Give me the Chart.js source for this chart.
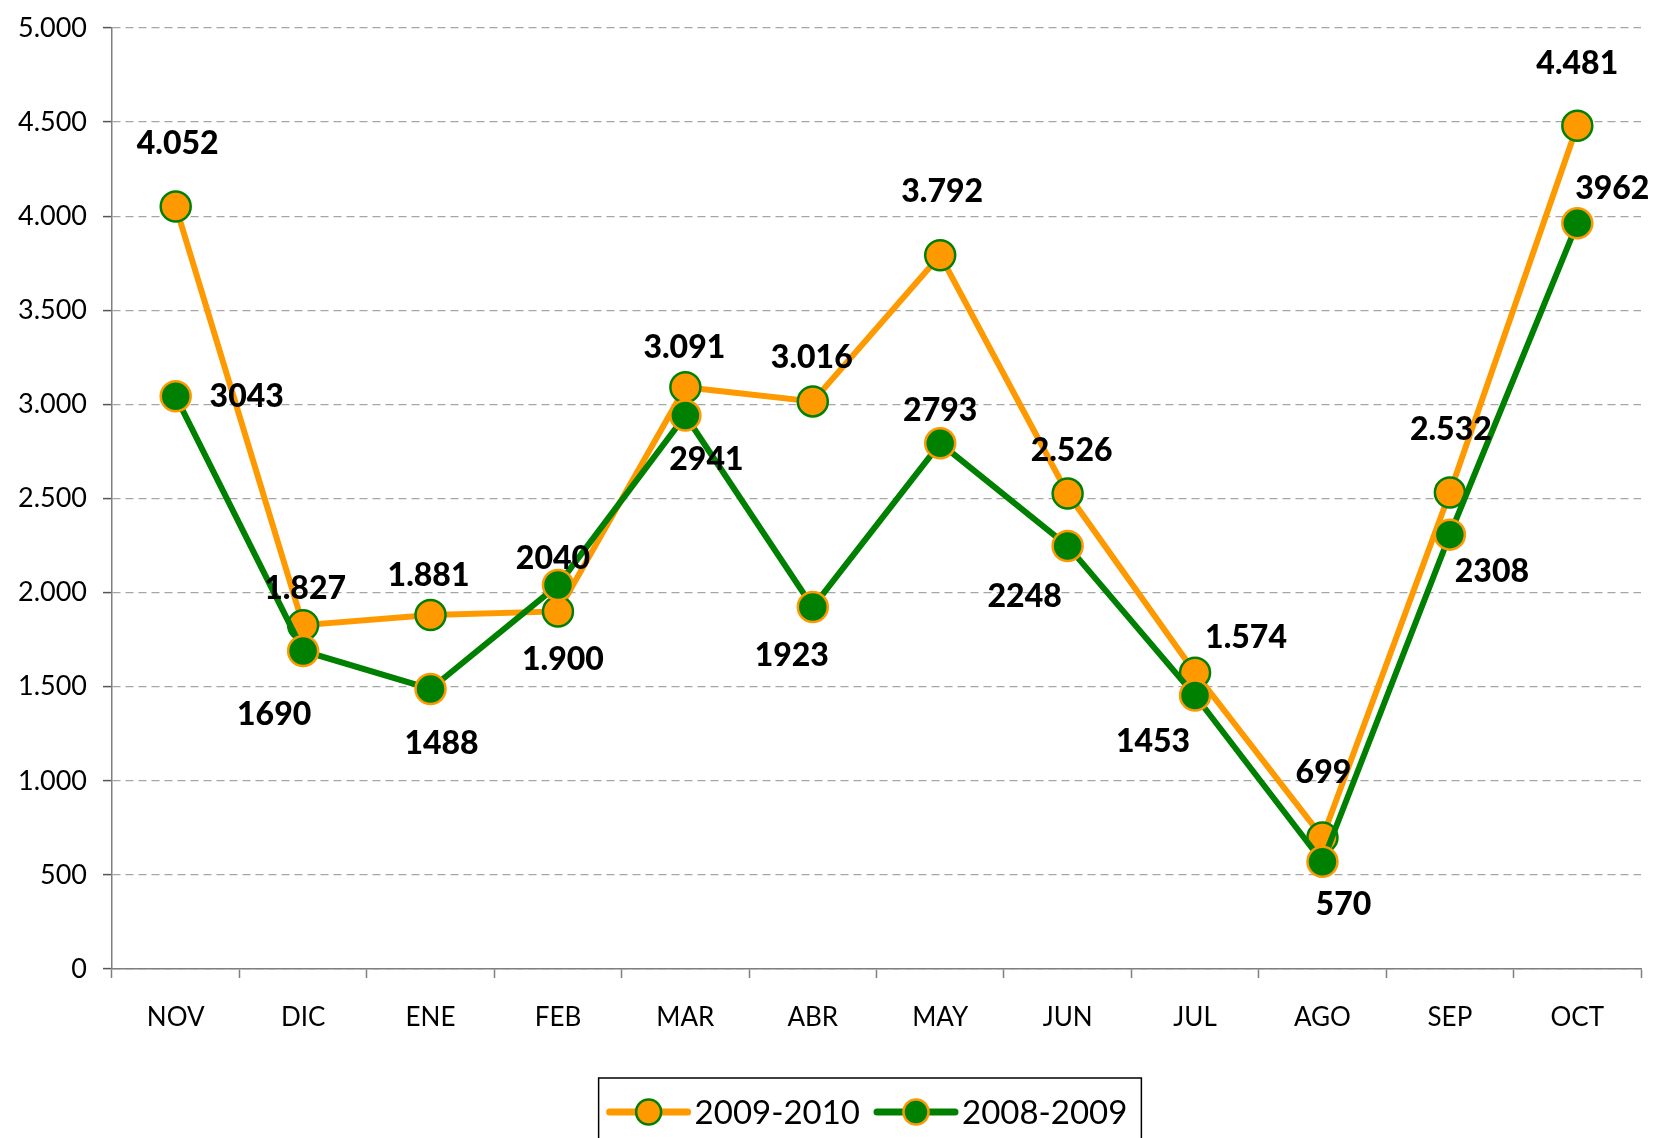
<!DOCTYPE html>
<html>
<head>
<meta charset="utf-8">
<script src="https://cdn.jsdelivr.net/npm/chart.js@4.4.1/dist/chart.umd.min.js"></script>
<style>
  html, body { margin: 0; padding: 0; background: #fff; }
</style>
</head>
<body>
<canvas id="line-chart" width="1655" height="1138"></canvas>
<script>
const months = ["NOV", "DIC", "ENE", "FEB", "MAR", "ABR", "MAY", "JUN", "JUL", "AGO", "SEP", "OCT"];
const season0910 = [4052, 1827, 1881, 1900, 3091, 3016, 3792, 2526, 1574, 699, 2532, 4481];
const season0809 = [3043, 1690, 1488, 2040, 2941, 1923, 2793, 2248, 1453, 570, 2308, 3962];
const yTicks = [0, 500, 1000, 1500, 2000, 2500, 3000, 3500, 4000, 4500, 5000];

// where each value label sits, relative to its point (dx, dy)
const labelShift0910 = [[2, -63], [2, -36], [-2, -39], [5, 48], [-1, -40], [-1, -44], [2, -64], [4, -43], [51, -35], [1, -65], [1, -63], [0, -62]];
const labelShift0809 = [[71, 0], [-29, 64], [11, 55], [-5, -26], [21, 44], [-21, 49], [0, -33], [-43, 51], [-42, 46], [21, 43], [42, 37], [35, -35]];

const ORANGE = "#ff9900";
const GREEN = "#008000";
const FONT = "Lato, 'DejaVu Sans', sans-serif";

const dotted = v => String(v).replace(/\B(?=(\d{3})+(?!\d))/g, ".");

const valueLabels = {
  id: "valueLabels",
  afterDatasetsDraw(chart) {
    const ctx = chart.ctx;
    ctx.save();
    ctx.font = "900 32px " + FONT;
    ctx.fillStyle = "#000";
    ctx.textAlign = "center";
    ctx.textBaseline = "middle";
    chart.data.datasets.forEach((ds, i) => {
      chart.getDatasetMeta(i).data.forEach((pt, j) => {
        const s = ds.labelShift[j];
        ctx.fillText(ds.labelFormat(ds.data[j]), pt.x + s[0], pt.y + s[1]);
      });
    });
    ctx.restore();
  },
};

const boxLegend = {
  id: "boxLegend",
  afterDraw(chart) {
    const ctx = chart.ctx;
    ctx.save();
    ctx.font = "33px " + FONT;
    ctx.textBaseline = "middle";
    const items = chart.data.datasets;
    const sample = 78, gap = 7, between = 17, padL = 11, padR = 14;
    let total = padL + padR;
    items.forEach((ds, i) => {
      total += sample + gap + ctx.measureText(ds.label).width + (i ? between : 0);
    });
    const left = 870 - total / 2;
    const top = 1078, cy = 1112;
    ctx.strokeStyle = "#000";
    ctx.lineWidth = 1.5;
    ctx.strokeRect(left, top, total, 90);
    let x = left + padL;
    items.forEach((ds, i) => {
      if (i) x += between;
      ctx.strokeStyle = ds.borderColor;
      ctx.lineWidth = 7;
      ctx.lineCap = "round";
      ctx.beginPath();
      ctx.moveTo(x, cy);
      ctx.lineTo(x + sample, cy);
      ctx.stroke();
      ctx.beginPath();
      ctx.arc(x + sample / 2, cy, 12.5, 0, Math.PI * 2);
      ctx.fillStyle = ds.pointBackgroundColor;
      ctx.fill();
      ctx.lineWidth = 2.5;
      ctx.strokeStyle = ds.pointBorderColor;
      ctx.stroke();
      x += sample + gap;
      ctx.fillStyle = "#000";
      ctx.fillText(ds.label, x, cy + 1);
      x += ctx.measureText(ds.label).width;
    });
    ctx.restore();
  },
};

new Chart(document.getElementById("line-chart"), {
  type: "line",
  data: {
    labels: months,
    datasets: [
      {
        label: "2009-2010",
        data: season0910,
        borderColor: ORANGE,
        backgroundColor: ORANGE,
        pointBackgroundColor: ORANGE,
        pointBorderColor: GREEN,
        borderWidth: 6,
        pointRadius: 15,
        pointBorderWidth: 2.5,
        tension: 0,
        fill: false,
        order: 1,
        labelShift: labelShift0910,
        labelFormat: dotted,
      },
      {
        label: "2008-2009",
        data: season0809,
        borderColor: GREEN,
        backgroundColor: GREEN,
        pointBackgroundColor: GREEN,
        pointBorderColor: ORANGE,
        borderWidth: 6,
        pointRadius: 15,
        pointBorderWidth: 2.5,
        tension: 0,
        fill: false,
        order: 0,
        labelShift: labelShift0809,
        labelFormat: v => String(v),
      },
    ],
  },
  options: {
    responsive: false,
    devicePixelRatio: 1,
    animation: false,
    layout: { autoPadding: false, padding: { top: 28, right: 14, left: 0, bottom: 0 } },
    plugins: {
      legend: { display: false },
      tooltip: { enabled: false },
    },
    scales: {
      x: {
        offset: true,
        afterFit: s => {
          s.height = 169;
          s.paddingLeft = 0;
          s.paddingRight = 0;
        },
        grid: {
          display: true,
          offset: true,
          drawOnChartArea: false,
          drawTicks: true,
          tickLength: 9,
          tickColor: "#7f7f7f",
          tickWidth: 1.5,
        },
        border: { color: "#7f7f7f", width: 1.5 },
        ticks: { color: "#000", padding: 24, font: { family: FONT, size: 26 } },
      },
      y: {
        min: 0,
        max: 5000,
        afterFit: s => {
          s.width = 112;
          s.paddingTop = 0;
          s.paddingBottom = 0;
        },
        afterBuildTicks: s => { s.ticks = yTicks.map(v => ({ value: v })); },
        grid: {
          color: "#a6a6a6",
          lineWidth: 1.2,
          tickLength: 9,
          tickColor: "#555",
          tickWidth: 1.5,
        },
        border: { color: "#7f7f7f", width: 1.5, dash: [8, 5] },
        ticks: {
          color: "#000",
          padding: 16,
          font: { family: FONT, size: 27 },
          callback: v => dotted(v),
        },
      },
    },
  },
  plugins: [valueLabels, boxLegend],
});
</script>
</body>
</html>
